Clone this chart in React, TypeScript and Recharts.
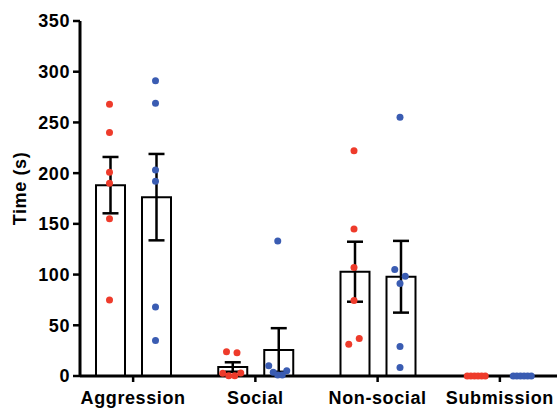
import React from 'react';
import { ComposedChart, Bar, Scatter, XAxis, YAxis, ErrorBar, Label } from 'recharts';

// Behaviour categories on the x axis
const CATEGORIES = ['Aggression', 'Social', 'Non-social', 'Submission'];

// Time (s) per animal, control group (red)
const CONTROL_AGGRESSION = [268, 240, 201, 190, 155, 75];
const CONTROL_SOCIAL = [24, 23, 2.6, 0.3, 0.3, 3];
const CONTROL_NONSOCIAL = [222, 145, 107, 74.5, 31.4, 37];
const CONTROL_SUBMISSION = [0, 0, 0, 0, 0, 0];

// Time (s) per animal, treated group (blue)
const TREATED_AGGRESSION = [291, 269, 203, 192, 68, 35];
const TREATED_SOCIAL = [133, 10, 3.6, 1, 1, 5.2];
const TREATED_NONSOCIAL = [255, 91.2, 105, 98.4, 29, 8.5];
const TREATED_SUBMISSION = [0, 0, 0, 0, 0, 0];

const Y_TICKS = [0, 50, 100, 150, 200, 250, 300, 350];

const CONTROL = [CONTROL_AGGRESSION, CONTROL_SOCIAL, CONTROL_NONSOCIAL, CONTROL_SUBMISSION];
const TREATED = [TREATED_AGGRESSION, TREATED_SOCIAL, TREATED_NONSOCIAL, TREATED_SUBMISSION];

const RED = '#EE3B2B';
const BLUE = '#3A5CB2';
const FONT = '"Liberation Sans", Arial, Helvetica, sans-serif';

// chart geometry
const W = 557;
const H = 408;
const MARGIN = { top: 21, right: 0, bottom: 0, left: 20 };
const Y_AXIS_W = 60;
const X_AXIS_H = 32;
const X_PAD = { left: -8, right: -4 };
const PLOT_LEFT = MARGIN.left + Y_AXIS_W;
const PLOT_RIGHT = W - MARGIN.right;
const PLOT_H = H - MARGIN.top - MARGIN.bottom - X_AXIS_H;
const BAND = (PLOT_RIGHT - X_PAD.right - (PLOT_LEFT + X_PAD.left)) / CATEGORIES.length;
const Y_MAX = 350;
const PX_PER_UNIT = PLOT_H / Y_MAX;

const BAR_SIZE = 29;
const BAR_GAP = 17;
// same slot arithmetic the bar layout uses, so the dots sit over their bars
const SLOT = Math.trunc((BAND - (2 * BAR_SIZE + BAR_GAP)) / 2);
const CONTROL_SHIFT = SLOT + BAR_SIZE / 2 - BAND / 2;
const TREATED_SHIFT = SLOT + BAR_SIZE + BAR_GAP + BAR_SIZE / 2 - BAND / 2;

const mean = (v: number[]) => v.reduce((a, b) => a + b, 0) / v.length;
const sem = (v: number[]) => {
  const m = mean(v);
  const sd = Math.sqrt(v.reduce((a, b) => a + (b - m) * (b - m), 0) / (v.length - 1));
  return sd / Math.sqrt(v.length);
};

// Column scatter: points that would overlap vertically share a row and are spread sideways.
function swarm(values: number[]): number[] {
  const order = values.map((_, i) => i).sort((a, b) => values[a] - values[b]);
  const rows: number[][] = [];
  let prev = -Infinity;
  for (const i of order) {
    const py = values[i] * PX_PER_UNIT;
    if (rows.length && py - prev < 7) rows[rows.length - 1].push(i);
    else rows.push([i]);
    prev = py;
  }
  const out = new Array(values.length).fill(0);
  for (const row of rows) {
    row.sort((a, b) => a - b);
    const n = row.length;
    const step = n > 1 ? Math.min(10.5, 18 / (n - 1)) : 0;
    row.forEach((idx, k) => {
      out[idx] = (k - (n - 1) / 2) * step;
    });
  }
  return out;
}

const barRows = CATEGORIES.map((name, i) => ({
  name,
  control: mean(CONTROL[i]),
  controlErr: sem(CONTROL[i]),
  treated: mean(TREATED[i]),
  treatedErr: sem(TREATED[i]),
}));

function dots(groups: number[][], shift: number) {
  const out: { x: number; y: number }[] = [];
  groups.forEach((vals, ci) => {
    const jit = swarm(vals);
    vals.forEach((v, k) => out.push({ x: ci + (shift + jit[k]) / BAND, y: v }));
  });
  return out;
}

const controlDots = dots(CONTROL, CONTROL_SHIFT);
const treatedDots = dots(TREATED, TREATED_SHIFT);

const tickStyle = { fill: '#000', fontSize: 18, fontWeight: 700, fontFamily: FONT, letterSpacing: 0.6 };

const dotShape = (color: string) => (p: any) => (
  <circle cx={p.cx} cy={p.cy} r={3.5} fill={color} />
);

export default function App() {
  return (
    <div style={{ position: 'absolute', left: 0, top: 0, width: W, height: H, background: '#fff' }}>
      <ComposedChart width={W} height={H} data={barRows} margin={MARGIN} barGap={BAR_GAP}>
        <XAxis
          dataKey="name"
          height={X_AXIS_H}
          padding={X_PAD}
          axisLine={{ stroke: '#000', strokeWidth: 3 }}
          tickLine={{ stroke: '#000', strokeWidth: 2.5 }}
          tickSize={6}
          tickMargin={9}
          tick={tickStyle}
          interval={0}
        />
        <XAxis
          xAxisId="pos"
          dataKey="x"
          type="number"
          domain={[-0.5, 3.5]}
          padding={X_PAD}
          hide
        />
        <YAxis
          width={Y_AXIS_W}
          domain={[0, Y_MAX]}
          ticks={Y_TICKS}
          interval={0}
          axisLine={{ stroke: '#000', strokeWidth: 3 }}
          tickLine={{ stroke: '#000', strokeWidth: 2.5 }}
          tickSize={7}
          tickMargin={3}
          tick={tickStyle}
        >
          <Label
            content={({ viewBox }: any) => {
              const cx = viewBox.x;
              const cy = viewBox.y + viewBox.height / 2 - 10;
              return (
                <text
                  x={cx}
                  y={cy}
                  transform={`rotate(-90 ${cx} ${cy})`}
                  textAnchor="middle"
                  dy="0.36em"
                  style={{ fontSize: 18, fontWeight: 700, fontFamily: FONT, letterSpacing: 0.6 }}
                  fill="#000"
                >
                  Time (s)
                </text>
              );
            }}
          />
        </YAxis>
        <Bar dataKey="control" barSize={BAR_SIZE} fill="#fff" stroke="#000" strokeWidth={2} isAnimationActive={false}>
          <ErrorBar dataKey="controlErr" width={8} stroke="#000" strokeWidth={2.5} direction="y" />
        </Bar>
        <Bar dataKey="treated" barSize={BAR_SIZE} fill="#fff" stroke="#000" strokeWidth={2} isAnimationActive={false}>
          <ErrorBar dataKey="treatedErr" width={8} stroke="#000" strokeWidth={2.5} direction="y" />
        </Bar>
        <Scatter
          data={controlDots}
          xAxisId="pos"
          dataKey="y"
          shape={dotShape(RED)}
          isAnimationActive={false}
        />
        <Scatter
          data={treatedDots}
          xAxisId="pos"
          dataKey="y"
          shape={dotShape(BLUE)}
          isAnimationActive={false}
        />
      </ComposedChart>
    </div>
  );
}
